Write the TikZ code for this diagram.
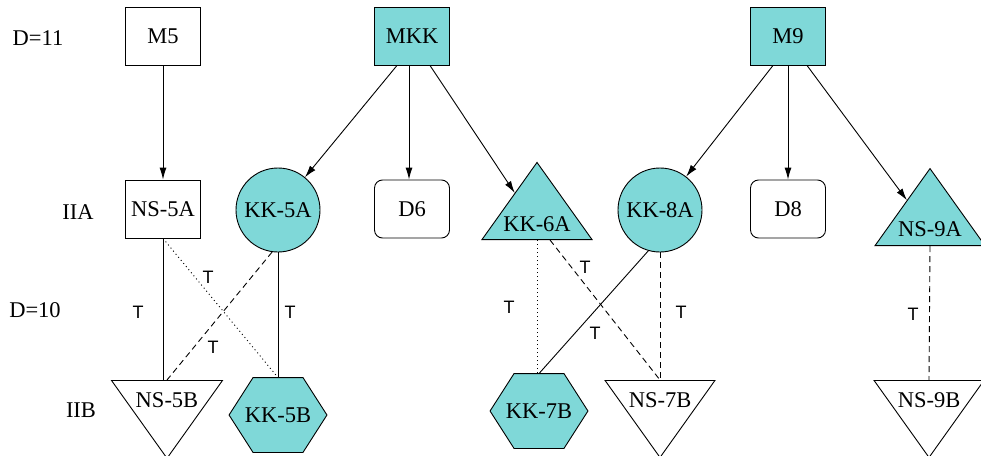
\documentclass[tikz,border=0pt]{standalone}
\usepackage{fontspec}
\setmainfont{Liberation Serif}
\newfontfamily\tfont{Liberation Sans}
\usetikzlibrary{arrows.meta,shapes.geometric,backgrounds}
\tikzset{>={Latex[length=12pt,width=7pt]}}
\definecolor{kkColour}{RGB}{127,216,216}
\definecolor{nsColour}{RGB}{255,255,255}
\tikzset{
	every node/.style={font=\fontsize{22.5}{26}\selectfont, inner sep=1pt},
	every path/.style={line width=0.9pt},
	box/.style={draw, rectangle, minimum width=75, minimum height=58},
	rbox/.style={box, rounded corners=8},
	ring/.style={draw, circle, minimum size=84, fill=kkColour},
	uptri/.style={draw, isosceles triangle, isosceles triangle apex angle=71, shape border rotate=90, minimum width=110, minimum height=77, anchor=south, text depth=4pt},
	downtri/.style={draw, isosceles triangle, isosceles triangle apex angle=71, shape border rotate=270, minimum width=108, minimum height=77, anchor=north, text height=24pt},
	hexa/.style={rectangle, minimum width=97, minimum height=74},
	tlab/.style={font=\tfont\fontsize{18}{20}\selectfont},
	dotline/.style={dash pattern=on 1pt off 3pt},
	dashline/.style={dash pattern=on 6pt off 4pt}
}
\begin{document}
\begin{tikzpicture}[x=1pt, y=-1pt]
		\useasboundingbox (0,0) rectangle (981,455);

		% the level labels
		\node (d11) at (38,38) {D=11};
		\node (iia) at (78,212) {IIA};
		\node (d10) at (35,310) {D=10};
		\node (iib) at (81,410) {IIB};

		% the top row
		\node[box, fill=nsColour] (M5) at (163,36) {M5};
		\node[box, fill=kkColour] (MKK) at (412,36) {MKK};
		\node[box, fill=kkColour] (M9) at (788,36) {M9};

		% the middle row
		\node[box, fill=nsColour] (NS5A) at (163,209) {NS-5A};
		\node[ring] (KK5A) at (278,210) {KK-5A};
		\node[rbox] (D6) at (412,209) {D6};
		\node[uptri, fill=kkColour] (KK6A) at (537,240) {KK-6A};
		\node[ring] (KK8A) at (660,210) {KK-8A};
		\node[rbox] (D8) at (788,209) {D8};
		\node[uptri, fill=kkColour, minimum width=106] (NS9A) at (930,246) {NS-9A};

		% the bottom row
		\node[downtri, fill=nsColour, minimum width=111] (NS5B) at (167,380) {NS-5B};
		\node[hexa] (KK5B) at (278,415) {KK-5B};
		\node[hexa] (KK7B) at (539,411) {KK-7B};
		\node[downtri, fill=nsColour, minimum width=104] (NS7B) at (660,380) {NS-7B};
		\node[downtri, fill=nsColour, minimum width=106] (NS9B) at (929,380) {NS-9B};

		% the hexagons behind their texts
		\begin{scope}[on background layer]
			\foreach \h in {KK5B,KK7B}
				\draw[fill=kkColour] ([xshift=24]\h.north west) -- ([xshift=-24]\h.north east) -- (\h.east)
					-- ([xshift=-24]\h.south east) -- ([xshift=24]\h.south west) -- (\h.west) -- cycle;
		\end{scope}

		% the arrows
		\draw[->] (M5) -- (NS5A);
		\draw[->] ([xshift=-15]MKK.south) -- (KK5A);
		\draw[->] ([xshift=-3]MKK.south) -- ([xshift=-3]D6.north);
		\draw[->] ([xshift=18]MKK.south) -- (KK6A);
		\draw[->] ([xshift=-15]M9.south) -- (KK8A);
		\draw[->] (M9) -- (D8);
		\draw[->] ([xshift=19]M9.south) -- (NS9A);

		% the T links
		\draw (NS5A.south) -- (NS5A.south |- NS5B.north);
		\draw[dotline] (NS5A.south) -- (KK5B.north);
		\draw[dashline] (KK5A.262) -- (NS5B.north);
		\draw (KK5A.south) -- (KK5B.north);
		\draw[dotline] (KK6A.south) -- (KK6A.south |- KK7B.north);
		\draw[dashline] ([xshift=13]KK6A.south) -- (NS7B.north);
		\draw (KK8A.254) -- (KK7B.north);
		\draw[dashline] (KK8A.south) -- (NS7B.north);
		\draw[dashline] (NS9A.south) -- (NS9B.north);

		% the text
		\node[tlab] (t1) at (138,312) {T};
		\node[tlab] (t2) at (208,277) {T};
		\node[tlab] (t3) at (213,347) {T};
		\node[tlab] (t4) at (290,312) {T};
		\node[tlab] (t5) at (509,307) {T};
		\node[tlab] (t6) at (585,267) {T};
		\node[tlab] (t7) at (595,333) {T};
		\node[tlab] (t8) at (681,312) {T};
		\node[tlab] (t9) at (913,314) {T};
	\end{tikzpicture}
\end{document}
